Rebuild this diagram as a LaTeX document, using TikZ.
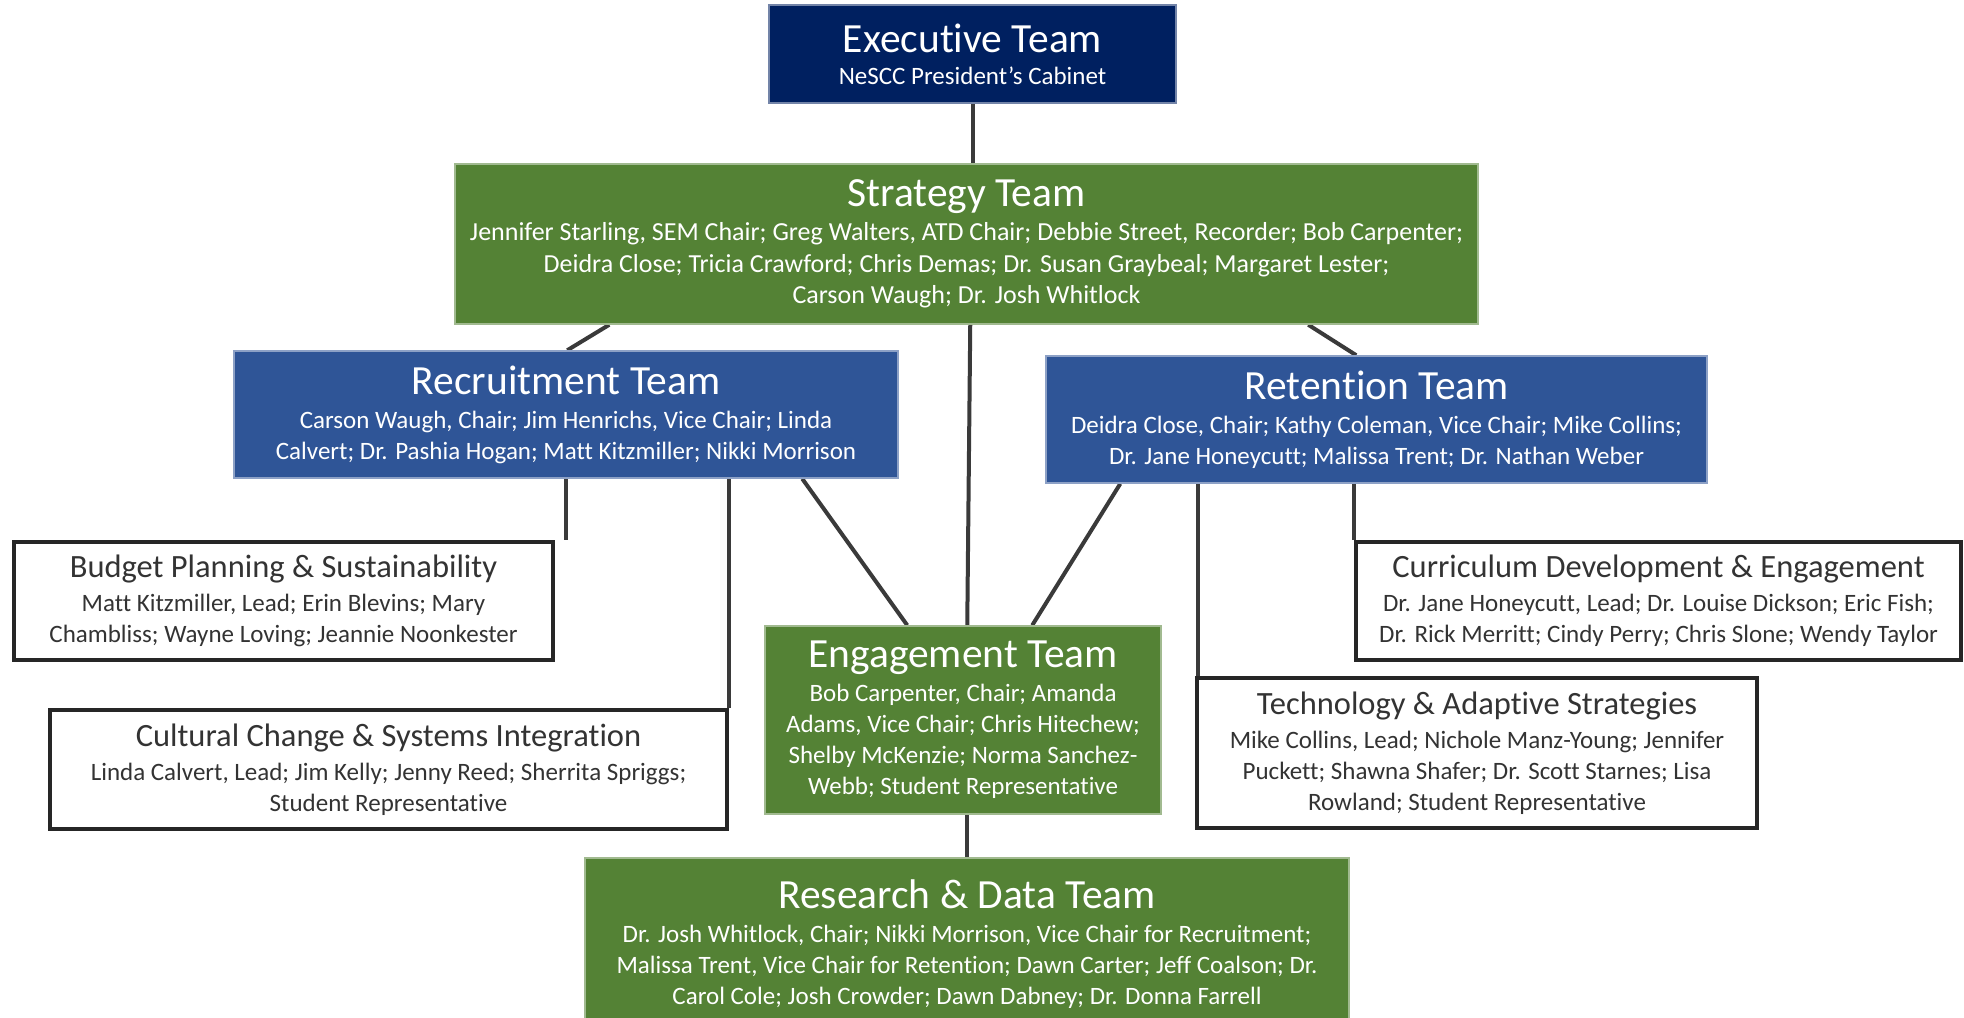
\documentclass[tikz,border=0pt]{standalone}
\usepackage{fontspec}
\setmainfont{Carlito}[Ligatures={NoCommon}]
\usetikzlibrary{calc,backgrounds}
\definecolor{navyfill}{HTML}{002060}
\definecolor{bluefill}{HTML}{2F5597}
\definecolor{greenfill}{HTML}{548235}
\definecolor{linkgray}{HTML}{3A3A3A}
\definecolor{inkgray}{HTML}{333333}
\newcommand{\bigtitle}[1]{{\fontsize{41.5}{41.5}\selectfont #1}}
\newcommand{\smalltitle}[1]{{\fontsize{32.5}{32.5}\selectfont #1}}
\begin{document}
\begin{tikzpicture}[x=1pt,y=-1pt,
  every node/.style={rectangle, inner sep=0pt, align=center,
    font=\fontsize{25}{31}\selectfont},
  navybox/.style={fill=navyfill, draw=navyfill!55!white, line width=1.5pt, text=white},
  bluebox/.style={fill=bluefill, draw=bluefill!55!white, line width=1.5pt, text=white},
  greenbox/.style={fill=greenfill, draw=greenfill!55!white, line width=1.5pt, text=white},
  workbox/.style={fill=white, draw=black!85, line width=4pt, text=inkgray},
  link/.style={draw=linkgray, line width=4pt}]

\useasboundingbox (0,0) rectangle (1964,1017);
\clip (0,0) rectangle (1964,1017);

% top-level teams
\node[navybox, minimum width=407pt, minimum height=98pt] (exec) at (972.5,54)
  {\bigtitle{Executive Team}\\[1pt]NeSCC President’s Cabinet};

\node[greenbox, minimum width=1023pt, minimum height=160pt,
      font=\fontsize{26}{31.5}\selectfont] (strat) at (966.5,244)
  {\bigtitle{Strategy Team}\\[3pt]
   Jennifer Starling, SEM Chair; Greg Walters, ATD Chair; Debbie Street, Recorder; Bob Carpenter;\\
   Deidra Close; Tricia Crawford; Chris Demas; Dr. Susan Graybeal; Margaret Lester;\\
   Carson Waugh; Dr. Josh Whitlock};

\node[bluebox, minimum width=664pt, minimum height=127pt] (recr) at (566,414.5)
  {\bigtitle{Recruitment Team}\\[3pt]
   Carson Waugh, Chair; Jim Henrichs, Vice Chair; Linda\\
   Calvert; Dr. Pashia Hogan; Matt Kitzmiller; Nikki Morrison};

\node[bluebox, minimum width=661pt, minimum height=127pt] (reten) at (1376.5,419.5)
  {\bigtitle{Retention Team}\\[3pt]
   Deidra Close, Chair; Kathy Coleman, Vice Chair; Mike Collins;\\
   Dr. Jane Honeycutt; Malissa Trent; Dr. Nathan Weber};

\node[greenbox, minimum width=396pt, minimum height=188pt] (engage) at (963,720)
  {\bigtitle{Engagement Team}\\[3pt]
   Bob Carpenter, Chair; Amanda\\
   Adams, Vice Chair; Chris Hitechew;\\
   Shelby McKenzie; Norma Sanchez-\\
   Webb; Student Representative};

\node[greenbox, minimum width=764pt, minimum height=172pt] (research) at (967,944)
  {\bigtitle{Research \& Data Team}\\[3pt]
   Dr. Josh Whitlock, Chair; Nikki Morrison, Vice Chair for Recruitment;\\
   Malissa Trent, Vice Chair for Retention; Dawn Carter; Jeff Coalson; Dr.\\
   Carol Cole; Josh Crowder; Dawn Dabney; Dr. Donna Farrell};

% working groups
\node[workbox, minimum width=539pt, minimum height=118pt] (budget) at (283.5,601)
  {\smalltitle{Budget Planning \& Sustainability}\\[3pt]
   Matt Kitzmiller, Lead; Erin Blevins; Mary\\
   Chambliss; Wayne Loving; Jeannie Noonkester};

\node[workbox, minimum width=677pt, minimum height=119pt] (culture) at (388.5,769.5)
  {\smalltitle{Cultural Change \& Systems Integration}\\[3pt]
   Linda Calvert, Lead; Jim Kelly; Jenny Reed; Sherrita Spriggs;\\
   Student Representative};

\node[workbox, minimum width=605pt, minimum height=118pt] (curric) at (1658.5,601)
  {\smalltitle{Curriculum Development \& Engagement}\\[3pt]
   Dr. Jane Honeycutt, Lead; Dr. Louise Dickson; Eric Fish;\\
   Dr. Rick Merritt; Cindy Perry; Chris Slone; Wendy Taylor};

\node[workbox, minimum width=560pt, minimum height=150pt] (tech) at (1477,753)
  {\smalltitle{Technology \& Adaptive Strategies}\\[3pt]
   Mike Collins, Lead; Nichole Manz-Young; Jennifer\\
   Puckett; Shawna Shafer; Dr. Scott Starnes; Lisa\\
   Rowland; Student Representative};

% attachment points of the connectors
\coordinate (stratL)  at ($(strat.south west)+(155,0)$);
\coordinate (stratM)  at ($(strat.south west)+(516,0)$);
\coordinate (stratR)  at ($(strat.south west)+(854,0)$);
\coordinate (recrT)   at ($(recr.north west)+(334,0)$);
\coordinate (retenT)  at ($(reten.north west)+(311,0)$);
\coordinate (recrB1)  at ($(recr.south west)+(333,0)$);
\coordinate (recrB3)  at ($(recr.south west)+(569,0)$);
\coordinate (retenB1) at ($(reten.south west)+(75,0)$);
\coordinate (engL)    at ($(engage.north west)+(143,0)$);
\coordinate (engM)    at ($(engage.north west)+(203,0)$);
\coordinate (engR)    at ($(engage.north west)+(268,0)$);
\coordinate (engB)    at ($(engage.south)+(4,0)$);
\coordinate (techT)   at ($(tech.north west)+(3,0)$);

% connectors, drawn beneath the boxes
\begin{scope}[on background layer]
  \draw[link] (exec.south) -- (exec.south |- strat.north);
  \draw[link] (stratL) -- (recrT);
  \draw[link] (stratR) -- (retenT);
  \draw[link] (stratM) -- (engM);
  \draw[link] (recrB1) -- (recrB1 |- budget.north);
  \draw[link] (culture.north east |- recr.south) -- (culture.north east);
  \draw[link] (recrB3) -- (engL);
  \draw[link] (retenB1) -- (engR);
  \draw[link] (techT |- reten.south) -- (techT);
  \draw[link] (curric.north west |- reten.south) -- (curric.north west);
  \draw[link] (engB) -- (engB |- research.north);
\end{scope}
\end{tikzpicture}
\end{document}
